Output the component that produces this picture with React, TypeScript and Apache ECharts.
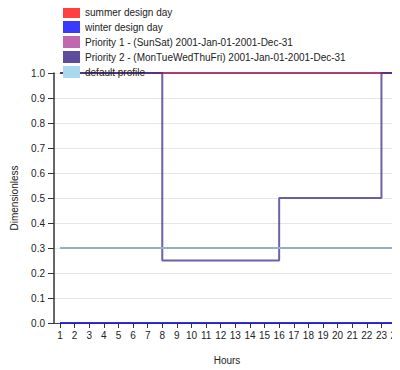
import React, { useEffect, useRef } from "react";
import * as echarts from "echarts";

const hours = [1, 2, 3, 4, 5, 6, 7, 8, 9, 10, 11, 12, 13, 14, 15, 16, 17, 18, 19, 20, 21, 22, 23, 24];
const summerDesignDay = [1, 1, 1, 1, 1, 1, 1, 1, 1, 1, 1, 1, 1, 1, 1, 1, 1, 1, 1, 1, 1, 1, 1, 1];
const winterDesignDay = [0, 0, 0, 0, 0, 0, 0, 0, 0, 0, 0, 0, 0, 0, 0, 0, 0, 0, 0, 0, 0, 0, 0, 0];
const priority1 = [1, 1, 1, 1, 1, 1, 1, 1, 1, 1, 1, 1, 1, 1, 1, 1, 1, 1, 1, 1, 1, 1, 1, 1];
const priority2 = [1, 1, 1, 1, 1, 1, 1, 0.25, 0.25, 0.25, 0.25, 0.25, 0.25, 0.25, 0.25, 0.5, 0.5, 0.5, 0.5, 0.5, 0.5, 0.5, 1, 1];
const defaultProfile = [0.3, 0.3, 0.3, 0.3, 0.3, 0.3, 0.3, 0.3, 0.3, 0.3, 0.3, 0.3, 0.3, 0.3, 0.3, 0.3, 0.3, 0.3, 0.3, 0.3, 0.3, 0.3, 0.3, 0.3];

const seriesDefs = [
  { name: "summer design day", values: summerDesignDay, color: "#ff4040", line: "rgba(230,30,40,0.8)" },
  { name: "winter design day", values: winterDesignDay, color: "#3a3aff", line: "rgba(30,30,220,0.9)" },
  { name: "Priority 1 - (SunSat) 2001-Jan-01-2001-Dec-31", values: priority1, color: "#c067b0", line: "rgba(140,50,130,0.6)" },
  { name: "Priority 2 - (MonTueWedThuFri) 2001-Jan-01-2001-Dec-31", values: priority2, color: "#5b4c9c", line: "rgba(60,45,140,0.75)" },
  { name: "default profile", values: defaultProfile, color: "#a8d9ef", line: "#8fb4c0" },
];

export default function App() {
  const ref = useRef<HTMLDivElement>(null);
  useEffect(() => {
    if (!ref.current) return;
    const chart = echarts.init(ref.current, null, { renderer: "svg" });
    const font = "Arial, 'Liberation Sans', sans-serif";
    chart.setOption({
      animation: false,
      textStyle: { fontFamily: font },
      legend: {
        orient: "vertical",
        left: 63,
        top: 6,
        padding: 0,
        itemWidth: 17,
        itemHeight: 12,
        itemGap: 3,
        icon: "rect",
        textStyle: { fontSize: 10, color: "#222", fontFamily: font },
        data: seriesDefs.map((s) => ({ name: s.name, itemStyle: { color: s.color, opacity: 1 } })),
      },
      grid: { left: 54, right: 0, top: 73, bottom: 47, outerBoundsMode: "none", containLabel: false },
      xAxis: {
        type: "value",
        min: 0.59,
        max: 24.27,
        name: "Hours",
        nameLocation: "middle",
        nameGap: 32,
        nameTextStyle: { fontSize: 10, color: "#222", fontFamily: font },
        axisLine: { show: true, onZero: false, lineStyle: { color: "#444", width: 1 } },
        axisTick: { show: true, length: 5, lineStyle: { color: "#333" }, customValues: hours },
        axisLabel: { fontSize: 10, color: "#222", margin: 7, fontFamily: font, customValues: hours },
        splitLine: { show: false },
      },
      yAxis: {
        type: "value",
        min: 0,
        max: 1,
        interval: 0.1,
        name: "Dimensionless",
        nameLocation: "middle",
        nameGap: 35,
        nameTextStyle: { fontSize: 10, color: "#222", fontFamily: font },
        axisLine: { show: true, lineStyle: { color: "#333", width: 1.5 } },
        axisTick: { show: true, length: 6, lineStyle: { color: "#333" } },
        axisLabel: {
          fontSize: 10,
          color: "#222",
          margin: 9,
          fontFamily: font,
          formatter: (v: number) => v.toFixed(1),
        },
        splitLine: { show: true, lineStyle: { color: "#e6e6e6", width: 1 } },
      },
      series: seriesDefs.map((s) => ({
        name: s.name,
        type: "line",
        step: "end",
        symbol: "none",
        data: hours.map((h, i) => [h, s.values[i]]),
        itemStyle: { color: s.color },
        lineStyle: { color: s.line, width: 2 },
      })),
    });
    return () => chart.dispose();
  }, []);
  return <div ref={ref} style={{ width: 400, height: 370, marginLeft: -8, marginTop: -8 }} />;
}
